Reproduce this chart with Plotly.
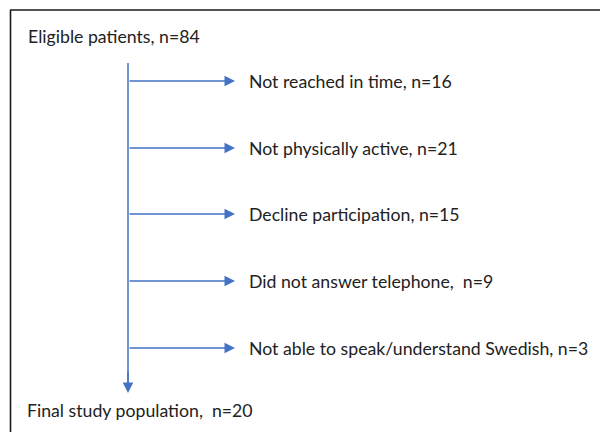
import plotly.graph_objects as go

start_label = "Eligible patients, n=84"
end_label = "Final study population,  n=20"
exclusion_labels = [
    "Not reached in time, n=16",
    "Not physically active, n=21",
    "Decline participation, n=15",
    "Did not answer telephone,  n=9",
    "Not able to speak/understand Swedish, n=3",
]
exclusion_y = [81, 148, 214, 281, 348]

BLUE = "#4472C4"
TEXT = "#222222"
FONT = "Lato"
FS = 17.7

# the browser page adds an 8px body margin; shift the data window to compensate
OFF = 8

fig = go.Figure()
fig.add_trace(go.Scatter(x=[0, 608], y=[0, 432], mode="markers",
                         marker=dict(opacity=0), hoverinfo="skip", showlegend=False))

shapes = [
    dict(type="line", xref="x", yref="y", x0=10, x1=620, y0=10, y1=10,
         line=dict(color="#1a1a1a", width=1.6)),
    dict(type="line", xref="x", yref="y", x0=10.5, x1=10.5, y0=10, y1=440,
         line=dict(color="#1a1a1a", width=1.6)),
    dict(type="line", xref="x", yref="y", x0=128, x1=128, y0=63, y1=386,
         line=dict(color=BLUE, width=1.5)),
]

annotations = []
annotations.append(dict(x=128, y=393, ax=128, ay=370, xref="x", yref="y",
                        axref="x", ayref="y", text="", showarrow=True,
                        arrowhead=2, arrowsize=1.4, arrowwidth=1.5, arrowcolor=BLUE))
for lbl, y in zip(exclusion_labels, exclusion_y):
    annotations.append(dict(x=235, y=y, ax=128, ay=y, xref="x", yref="y",
                            axref="x", ayref="y", text="", showarrow=True,
                            arrowhead=2, arrowsize=1.4, arrowwidth=1.5,
                            arrowcolor=BLUE, standoff=0))
    annotations.append(dict(x=247, y=y, xref="x", yref="y", text=lbl,
                            showarrow=False, xanchor="left", yanchor="middle",
                            font=dict(family=FONT, size=FS, color=TEXT)))

annotations.append(dict(x=26, y=36, xref="x", yref="y", text=start_label,
                        showarrow=False, xanchor="left", yanchor="middle",
                        font=dict(family=FONT, size=FS, color=TEXT)))
annotations.append(dict(x=25, y=410, xref="x", yref="y", text=end_label,
                        showarrow=False, xanchor="left", yanchor="middle",
                        font=dict(family=FONT, size=FS, color=TEXT)))

fig.update_layout(
    width=608, height=432,
    margin=dict(l=0, r=0, t=0, b=0),
    paper_bgcolor="white", plot_bgcolor="white",
    xaxis=dict(range=[OFF, 608 + OFF], visible=False, fixedrange=True),
    yaxis=dict(range=[432 + OFF, OFF], visible=False, fixedrange=True),
    shapes=shapes, annotations=annotations, showlegend=False,
)
fig.write_html("out.html")
